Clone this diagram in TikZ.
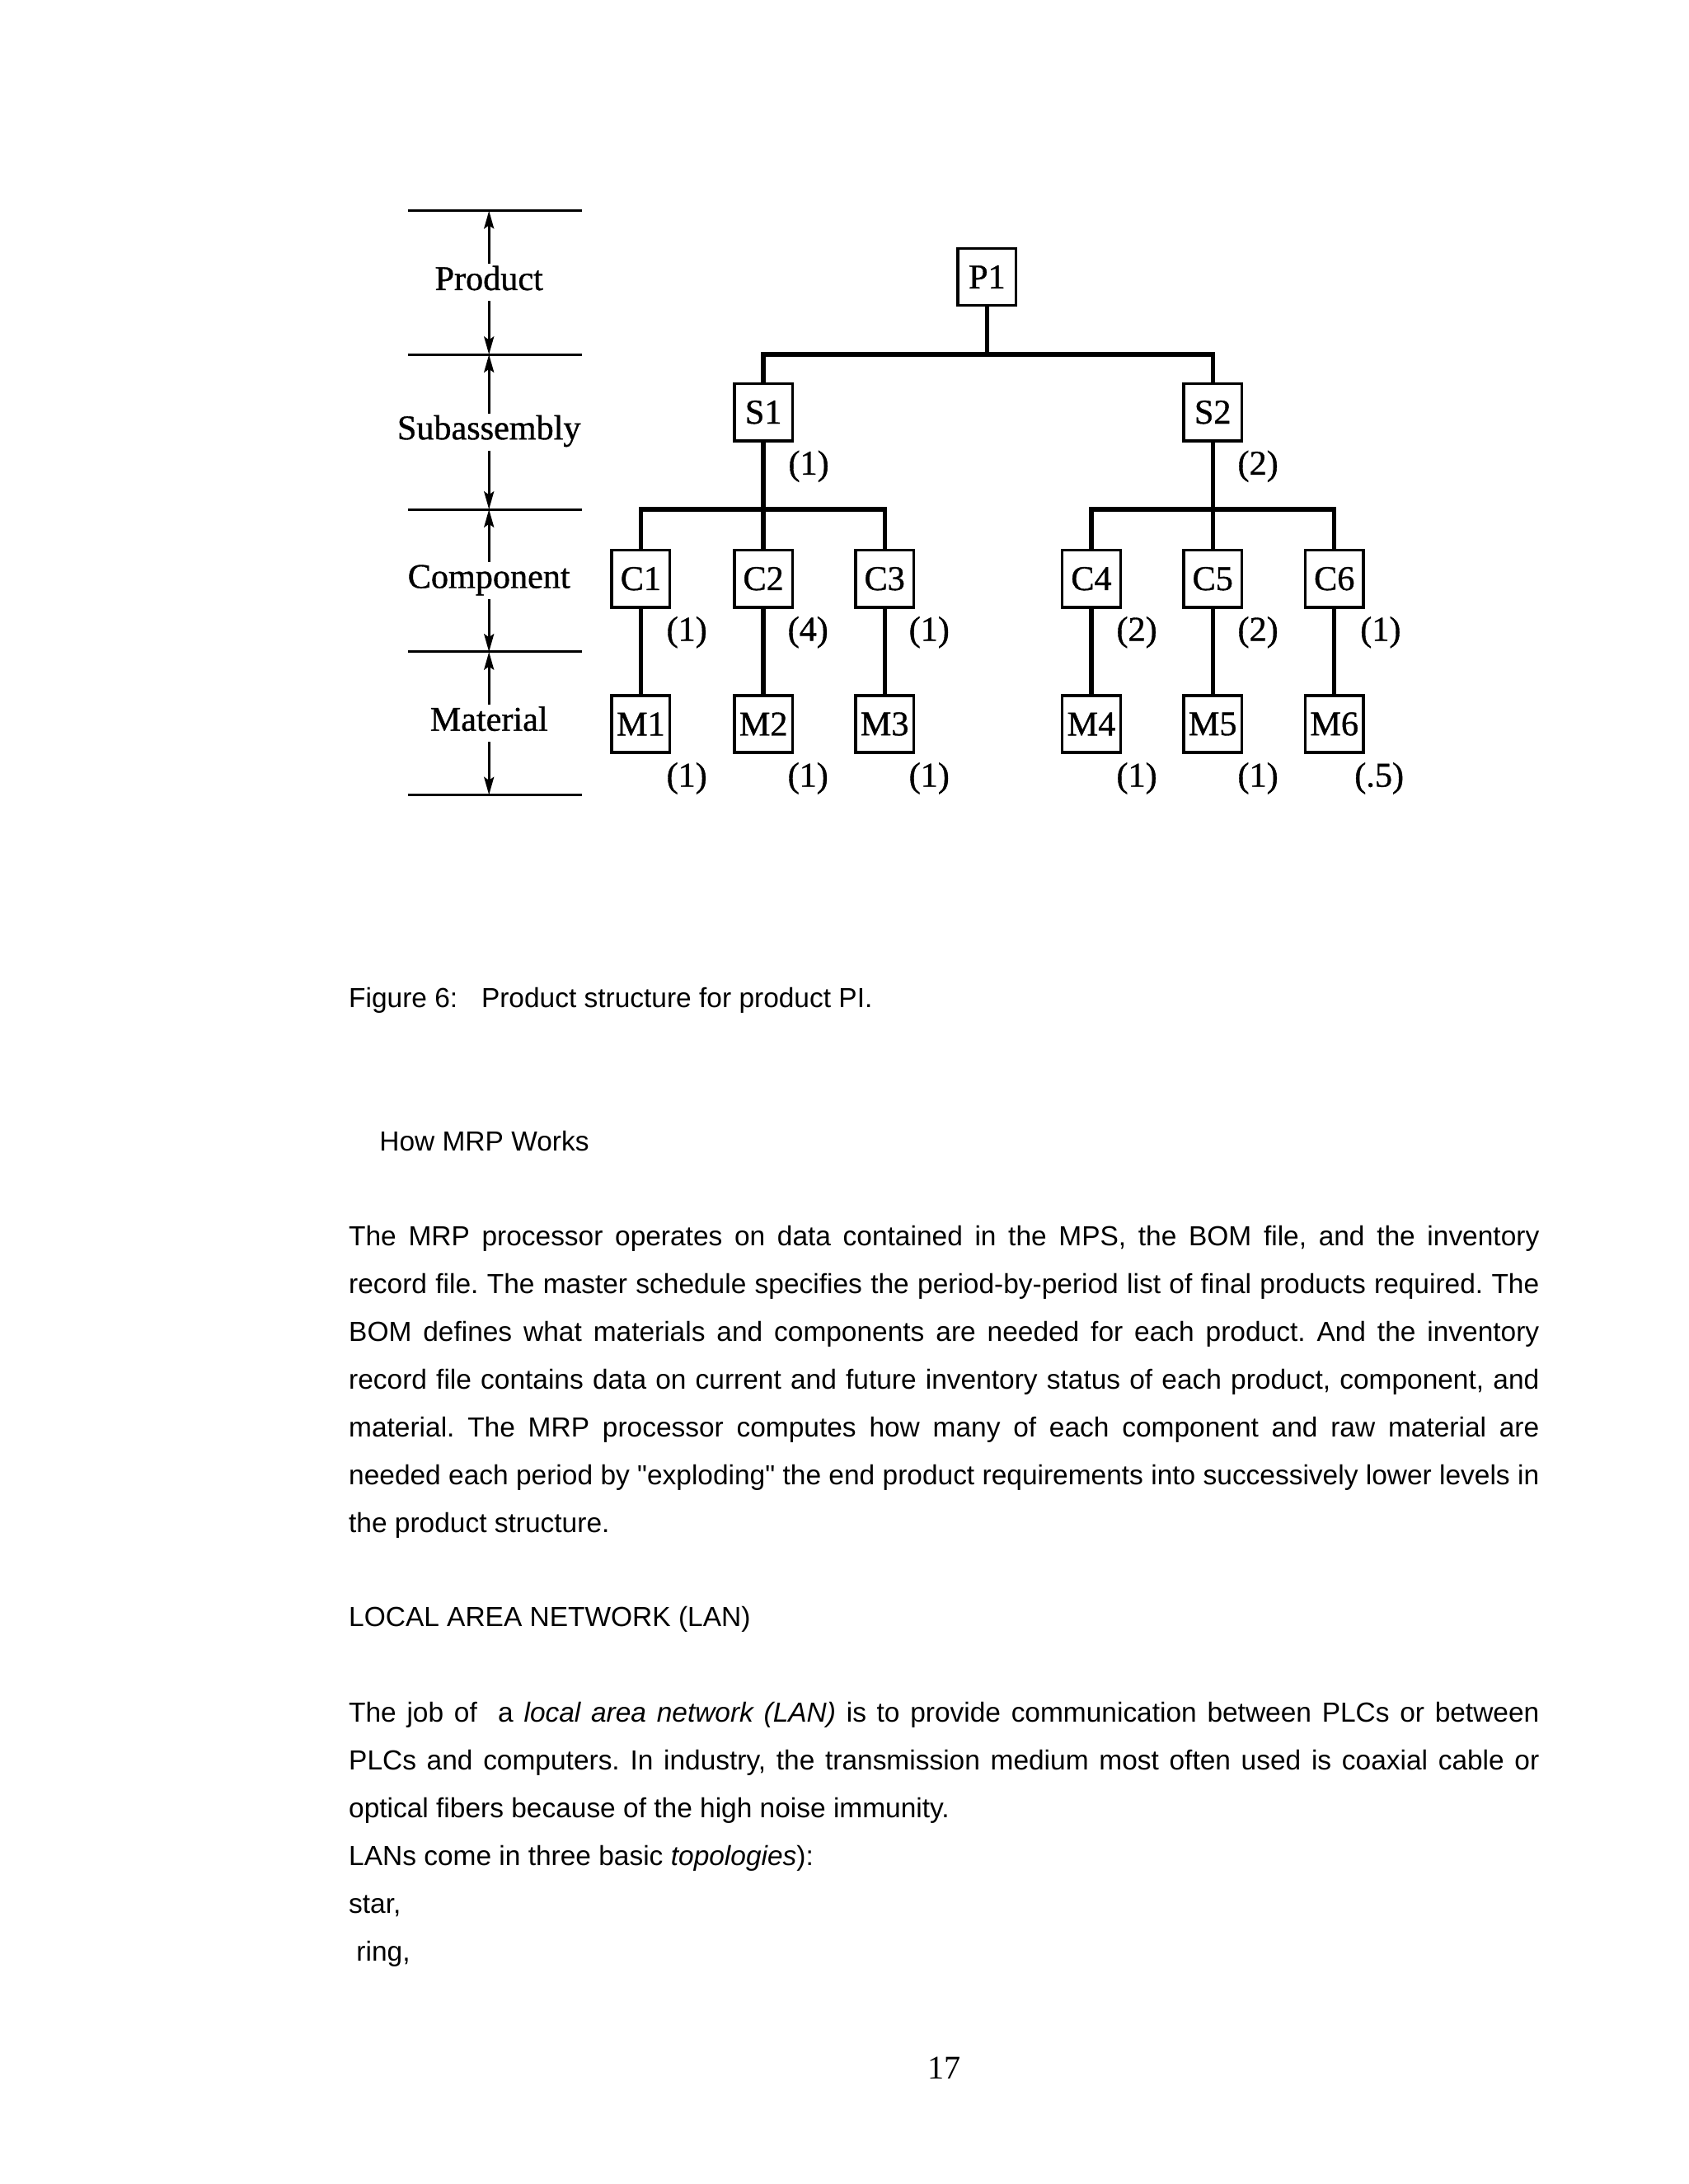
\documentclass[tikz,border=0pt]{standalone}
\usepackage{fontspec}
\setmainfont{Liberation Serif}
\newfontfamily\arial[Ligatures=TeXOff]{Liberation Sans}
\newfontfamily\heavyserif[FakeBold=0.9]{Liberation Serif}
\usetikzlibrary{arrows.meta}
\newcommand\figfont{\heavyserif\fontsize{12.6}{14}\selectfont}
\newcommand\bodyfont{\arial\fontsize{10}{12}\selectfont\frenchspacing}
\newcommand\jline[1]{\makebox[431.5pt][s]{#1}}
\begin{document}
\begin{tikzpicture}[x=0.50495pt,y=-0.50495pt,
  box/.style={draw,line width=1pt,minimum width=21.1pt,minimum height=20.7pt,inner sep=0pt,font=\figfont},
  qty/.style={inner sep=0pt,font=\figfont},
  lvl/.style={inner xsep=0pt,inner ysep=0.7pt,text height=8.5pt,text depth=3.1pt,font=\figfont},
  tree/.style={line width=1.6pt},
  levelline/.style={line width=0.9pt},
  dimarrow/.style={line width=0.9pt,-{Stealth[length=6.5pt,width=3.6pt,inset=1.2pt]}},
  body/.style={anchor=base west,inner sep=0pt,font=\bodyfont}]
\fill[white] (0,0) rectangle (1212,1568);
\useasboundingbox (0,0) rectangle (1212,1568);

% ---- level scale on the left
\foreach \yy in {151.3,254.5,365.7,468,570.7}
  \draw[levelline] (293,\yy) -- (418,\yy);
\coordinate (L1) at (351,151.3);
\coordinate (L2) at (351,254.5);
\coordinate (L3) at (351,365.7);
\coordinate (L4) at (351,468);
\coordinate (L5) at (351,570.7);
\node[lvl] (lp) at (351,202.9) {Product};
\node[lvl] (ls) at (351,310.1) {Subassembly};
\node[lvl] (lc) at (351,416.8) {Component};
\node[lvl] (lm) at (351,519.3) {Material};
\draw[dimarrow] (lp.north) -- (L1);
\draw[dimarrow] (lp.south) -- (L2);
\draw[dimarrow] (ls.north) -- (L2);
\draw[dimarrow] (ls.south) -- (L3);
\draw[dimarrow] (lc.north) -- (L3);
\draw[dimarrow] (lc.south) -- (L4);
\draw[dimarrow] (lm.north) -- (L4);
\draw[dimarrow] (lm.south) -- (L5);

% ---- tree nodes
\node[box] (P1) at (708.5,198.8) {P1};
\node[box] (S1) at (548,296) {S1};
\node[box] (S2) at (870.5,296) {S2};
\node[box] (C1) at (460,415.5) {C1};
\node[box] (C2) at (548,415.5) {C2};
\node[box] (C3) at (635,415.5) {C3};
\node[box] (C4) at (783.4,415.5) {C4};
\node[box] (C5) at (870.5,415.5) {C5};
\node[box] (C6) at (957.8,415.5) {C6};
\node[box] (M1) at (460,519.8) {M1};
\node[box] (M2) at (548,519.8) {M2};
\node[box] (M3) at (635,519.8) {M3};
\node[box] (M4) at (783.4,519.8) {M4};
\node[box] (M5) at (870.5,519.8) {M5};
\node[box] (M6) at (957.8,519.8) {M6};

\coordinate (bar1) at (708.5,254.5);
\coordinate (bar2L) at (548,365.7);
\coordinate (bar2R) at (870.5,365.7);

\draw[tree] (P1.south) -- (bar1);
\draw[tree] (S1.north) |- (bar1) -| (S2.north);
\draw[tree] (S1.south) -- (C2.north);
\draw[tree] (C1.north) |- (bar2L) -| (C3.north);
\draw[tree] (S2.south) -- (C5.north);
\draw[tree] (C4.north) |- (bar2R) -| (C6.north);
\draw[tree] (C1.south) -- (M1.north);
\draw[tree] (C2.south) -- (M2.north);
\draw[tree] (C3.south) -- (M3.north);
\draw[tree] (C4.south) -- (M4.north);
\draw[tree] (C5.south) -- (M5.north);
\draw[tree] (C6.south) -- (M6.north);

% ---- quantities
\node[qty] (qS1) at (580.5,334.8) {(1)};
\node[qty] (qS2) at (903,334.8) {(2)};
\node[qty] (qC1) at (493,454) {(1)};
\node[qty] (qC2) at (580,454) {(4)};
\node[qty] (qC3) at (667,454) {(1)};
\node[qty] (qC4) at (816,454) {(2)};
\node[qty] (qC5) at (903,454) {(2)};
\node[qty] (qC6) at (991,454) {(1)};
\node[qty] (qM1) at (493,558.8) {(1)};
\node[qty] (qM2) at (580,558.8) {(1)};
\node[qty] (qM3) at (667,558.8) {(1)};
\node[qty] (qM4) at (816,558.8) {(1)};
\node[qty] (qM5) at (903,558.8) {(1)};
\node[qty] (qM6) at (990,558.8) {(.5)};

% ---- page text
\node[body] (cap) at (250,723.5) {Figure 6:\hspace*{8.6pt}Product structure for product PI.};
\node[body] (h1) at (272,826.5) {How MRP Works};
\node[body] (p1) at (250,894.6) {\jline{The MRP processor operates on data contained in the MPS, the BOM file, and the inventory}};
\node[body] (p2) at (250,928.9) {\jline{record file. The master schedule specifies the period-by-period list of final products required. The}};
\node[body] (p3) at (250,963.2) {\jline{BOM defines what materials and components are needed for each product. And the inventory}};
\node[body] (p4) at (250,997.5) {\jline{record file contains data on current and future inventory status of each product, component, and}};
\node[body] (p5) at (250,1031.8) {\jline{material. The MRP processor computes how many of each component and raw material are}};
\node[body] (p6) at (250,1066.1) {\jline{needed each period by "exploding" the end product requirements into successively lower levels in}};
\node[body] (p7) at (250,1100.4) {the product structure.};
\node[body] (h2) at (250,1167.8) {LOCAL AREA NETWORK (LAN)};
\node[body] (q1) at (250,1236.3) {\jline{The job of\ \ a \textit{local area network (LAN)} is to provide communication between PLCs or between}};
\node[body] (q2) at (250,1270.6) {\jline{PLCs and computers. In industry, the transmission medium most often used is coaxial cable or}};
\node[body] (q3) at (250,1304.9) {optical fibers because of the high noise immunity.};
\node[body] (q4) at (250,1339.2) {LANs come in three basic \textit{topologies}):};
\node[body] (q5) at (250,1373.5) {star,};
\node[body] (q6) at (255.5,1407.8) {ring,};
\node[anchor=base,inner sep=0pt,font=\fontsize{12}{14}\selectfont] (pg) at (678,1492.3) {17};
\end{tikzpicture}
\end{document}
